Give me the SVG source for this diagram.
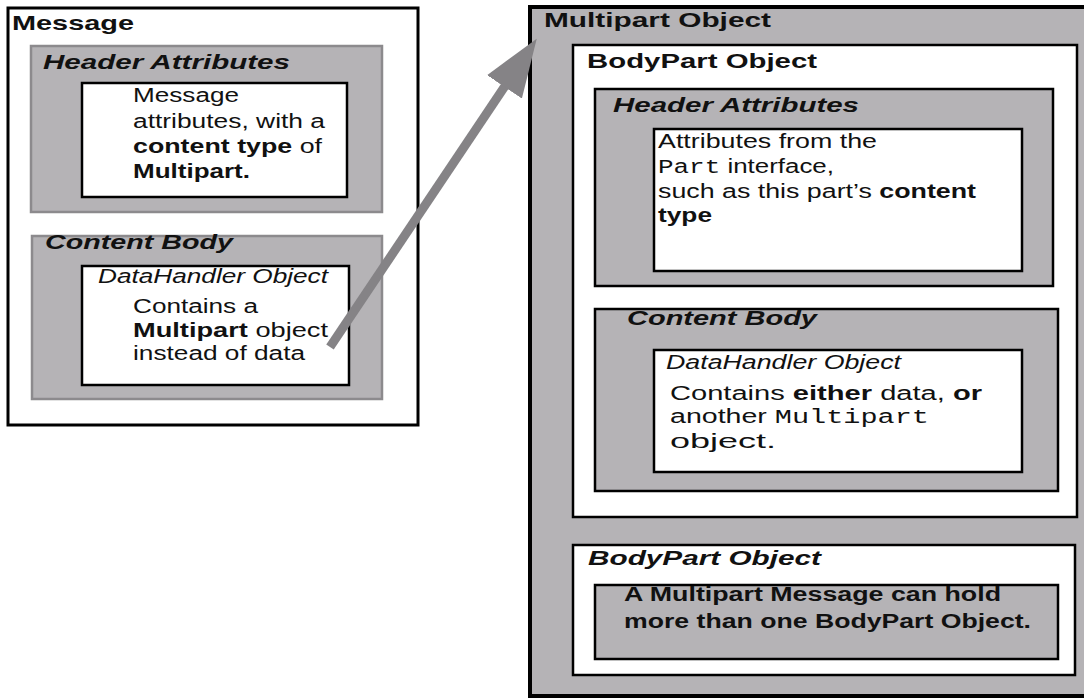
<svg xmlns="http://www.w3.org/2000/svg" width="1084" height="698" viewBox="0 0 1084 698">
  <style>
    text { font-family: "Liberation Sans", Arial, sans-serif; font-size: 20px; fill: #111; }
    .b { font-weight: bold; }
    .bi { font-weight: bold; font-style: italic; }
    .i { font-style: italic; }
    .title { font-size: 21px; }
    .mono { font-family: "Liberation Mono", "Courier New", monospace; }
    .white { fill: #ffffff; stroke: #000; stroke-width: 2.5; }
    .grayBlack { fill: #b5b3b6; stroke: #000; stroke-width: 2.5; }
    .graySoft { fill: #b5b3b6; stroke: #8c8a8d; stroke-width: 2.5; }
    .outer { fill: #ffffff; stroke: #000; stroke-width: 3; }
    .arrow { stroke: #858386; stroke-width: 9; fill: none; }
  </style>
  <defs>
    <marker id="head" markerUnits="userSpaceOnUse" markerWidth="58" markerHeight="42" refX="1" refY="21" orient="auto">
      <path d="M0,0 L58,21 L0,42 z" fill="#858386"/>
    </marker>
  </defs>

  <!-- Message object -->
  <g id="message">
    <rect class="outer" x="8" y="8" width="410" height="417"/>
    <text class="b title" x="12" y="30" textLength="122" lengthAdjust="spacingAndGlyphs">Message</text>
  </g>

  <g id="msg-header">
    <rect class="graySoft" x="31" y="46" width="351" height="166"/>
    <text class="bi title" x="43" y="69" textLength="247" lengthAdjust="spacingAndGlyphs">Header Attributes</text>
    <rect class="white" x="82" y="83" width="265" height="114"/>
    <text x="133" y="102" textLength="106" lengthAdjust="spacingAndGlyphs">Message</text>
    <text x="133" y="128" textLength="192" lengthAdjust="spacingAndGlyphs">attributes, with a</text>
    <text x="133" y="153" textLength="189" lengthAdjust="spacingAndGlyphs"><tspan class="b">content type</tspan> of</text>
    <text class="b" x="133" y="178" textLength="117" lengthAdjust="spacingAndGlyphs">Multipart.</text>
  </g>

  <g id="msg-content">
    <rect class="graySoft" x="32" y="236" width="350" height="163"/>
    <text class="bi title" x="45" y="249" textLength="188" lengthAdjust="spacingAndGlyphs">Content Body</text>
    <rect class="white" x="82" y="266" width="267" height="119"/>
    <text class="i" x="98" y="283" textLength="230" lengthAdjust="spacingAndGlyphs">DataHandler Object</text>
    <text x="133" y="313" textLength="125" lengthAdjust="spacingAndGlyphs">Contains a</text>
    <text x="133" y="337" textLength="195" lengthAdjust="spacingAndGlyphs"><tspan class="b">Multipart</tspan> object</text>
    <text x="133" y="360" textLength="172" lengthAdjust="spacingAndGlyphs">instead of data</text>
  </g>

  <!-- Multipart object -->
  <g id="multipart">
    <rect x="530" y="7" width="570" height="689" fill="#b5b3b6" stroke="#000" stroke-width="4"/>
    <text class="b title" x="544" y="27" textLength="227" lengthAdjust="spacingAndGlyphs">Multipart Object</text>
  </g>

  <g id="bodypart-1">
    <rect class="white" x="573" y="45" width="504" height="472"/>
    <text class="b title" x="587" y="68" textLength="230" lengthAdjust="spacingAndGlyphs">BodyPart Object</text>
  </g>

  <g id="bp-header">
    <rect class="grayBlack" x="595" y="89" width="458" height="197"/>
    <text class="bi title" x="613" y="112" textLength="246" lengthAdjust="spacingAndGlyphs">Header Attributes</text>
    <rect class="white" x="654" y="129" width="368" height="142"/>
    <text x="658" y="148" textLength="219" lengthAdjust="spacingAndGlyphs">Attributes from the</text>
    <text x="658" y="173" textLength="176" lengthAdjust="spacingAndGlyphs"><tspan class="mono">Part</tspan> interface,</text>
    <text x="658" y="198" textLength="318" lengthAdjust="spacingAndGlyphs">such as this part’s <tspan class="b">content</tspan></text>
    <text class="b" x="658" y="222" textLength="54" lengthAdjust="spacingAndGlyphs">type</text>
  </g>

  <g id="bp-content">
    <rect class="grayBlack" x="595" y="309" width="463" height="182"/>
    <text class="bi title" x="627" y="325" textLength="190" lengthAdjust="spacingAndGlyphs">Content Body</text>
    <rect class="white" x="654" y="350" width="368" height="122"/>
    <text class="i" x="666" y="369" textLength="235" lengthAdjust="spacingAndGlyphs">DataHandler Object</text>
    <text x="670" y="400" textLength="312" lengthAdjust="spacingAndGlyphs">Contains <tspan class="b">either</tspan> data, <tspan class="b">or</tspan></text>
    <text x="670" y="423" textLength="259" lengthAdjust="spacingAndGlyphs">another <tspan class="mono">Multipart</tspan></text>
    <text x="670" y="448" textLength="106" lengthAdjust="spacingAndGlyphs">object.</text>
  </g>

  <g id="bodypart-2">
    <rect class="white" x="573" y="545" width="502" height="130"/>
    <text class="bi title" x="588" y="565" textLength="233" lengthAdjust="spacingAndGlyphs">BodyPart Object</text>
    <rect class="grayBlack" x="595" y="585" width="463" height="74"/>
    <text class="b" x="624" y="601" textLength="377" lengthAdjust="spacingAndGlyphs">A Multipart Message can hold</text>
    <text class="b" x="624" y="628" textLength="407" lengthAdjust="spacingAndGlyphs">more than one BodyPart Object.</text>
  </g>

  <!-- Connectors -->
  <g id="connectors">
    <line class="arrow" x1="330" y1="347" x2="505" y2="86" marker-end="url(#head)"/>
  </g>
</svg>
